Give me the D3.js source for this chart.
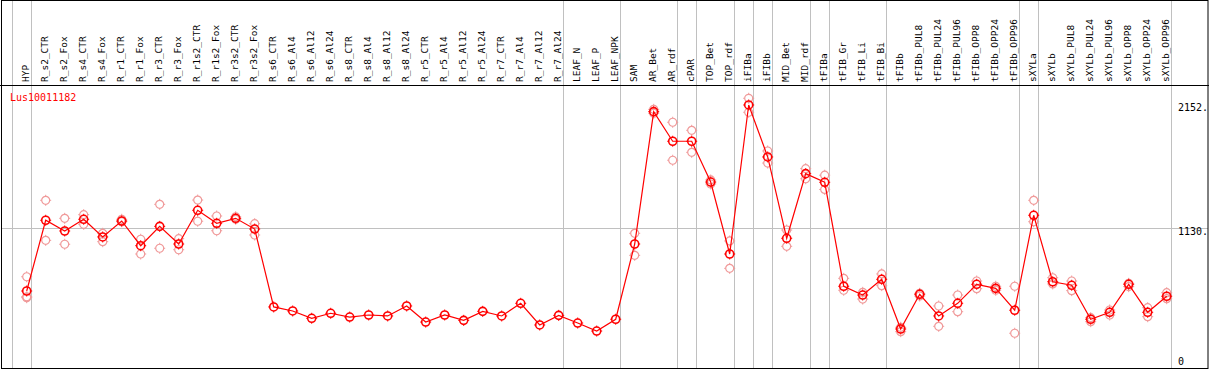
<!DOCTYPE html>
<html>
<head>
<meta charset="utf-8">
<script src="https://cdn.jsdelivr.net/npm/d3@7"></script>
<style>
  body { margin: 0; background: #fff; }
  svg text { font-family: "DejaVu Sans Mono", monospace; }
</style>
</head>
<body>
<div id="adiv"></div>
<script>
// sample names, left to right
var samples = ["HYP","R_s2_CTR","R_s2_Fox","R_s4_CTR","R_s4_Fox","R_r1_CTR","R_r1_Fox","R_r3_CTR","R_r3_Fox",
  "R_r1s2_CTR","R_r1s2_Fox","R_r3s2_CTR","R_r3s2_Fox","R_s6_CTR","R_s6_Al4","R_s6_Al12","R_s6_Al24",
  "R_s8_CTR","R_s8_Al4","R_s8_Al12","R_s8_Al24","R_r5_CTR","R_r5_Al4","R_r5_Al12","R_r5_Al24",
  "R_r7_CTR","R_r7_Al4","R_r7_Al12","R_r7_Al24","LEAF_N","LEAF_P","LEAF_NPK","SAM","AR_Bet","AR_rdf",
  "cPAR","TOP_Bet","TOP_rdf","iFIBa","iFIBb","MID_Bet","MID_rdf","tFIBa","tFIB_Gr","tFIB_Li","tFIB_Bi",
  "tFIBb","tFIBb_PUL8","tFIBb_PUL24","tFIBb_PUL96","tFIBb_OPP8","tFIBb_OPP24","tFIBb_OPP96",
  "sXYLa","sXYLb","sXYLb_PUL8","sXYLb_PUL24","sXYLb_PUL96","sXYLb_OPP8","sXYLb_OPP24","sXYLb_OPP96"];

// mean expression per sample
var means = [616,1197,1109,1205,1060,1191,988,1147,1002,1279,1172,1213,1125,485,452,392,433,
  402,419,411,493,361,419,375,449,411,515,337,416,353,287,384,1002,2089,1846,
  1846,1511,920,2144,1717,1049,1580,1509,655,583,712,
  304,589,411,515,671,638,458,1238,692,663,384,441,671,441,573];

// replicate values (first / second / third), null where none visible
var rep1 = [733,1361,1213,1243,1090,1205,1041,1328,1046,1363,1232,1226,1169,null,null,null,null,
  null,null,null,null,null,null,null,null,null,null,null,null,null,null,null,1090,2108,2002,
  1936,1528,1027,2199,1766,1117,1621,1567,720,605,756,
  318,597,493,583,698,655,655,1361,725,698,397,460,679,479,602];
var rep2 = [569,1032,1000,1164,1021,1185,920,967,955,1189,1111,1205,1076,null,null,null,null,
  null,null,null,null,null,null,null,null,null,null,null,null,null,null,null,909,2076,1690,
  1755,1495,802,2084,1667,983,1538,1450,622,550,660,
  282,575,326,446,635,622,269,1185,674,619,364,419,652,405,553];
var rep3 = [561,null,null,null,null,null,null,null,null,null,null,null,null,null,null,null,null,
  null,null,null,null,null,null,null,null,null,null,null,null,null,null,null,null,null,null,
  null,null,null,null,null,null,null,null,null,null,null,
  null,null,null,null,null,null,null,null,null,null,null,null,null,null,null];

// first sample of each tissue group (vertical separators)
var groupStarts = ["HYP","R_s2_CTR","LEAF_N","SAM","cPAR","TOP_Bet","iFIBa","iFIBb","MID_Bet",
  "tFIBa","tFIB_Gr","tFIBb","sXYLa","sXYLb"];

var yTicks = [0, 1130, 2152];
var geneName = "Lus10011182";

var W = 1209, H = 370, headerY = 85.5, bottomY = 368.5;

var svg = d3.select("#adiv").append("svg")
  .attr("width", W).attr("height", H);

var x = d3.scaleBand().domain(samples).range([11.7, 1170.7]);
var xp = function(s){ return x(s) + 15; };
var y = d3.scaleLinear().domain([0, 2152]).range([366, 104]);

// grid
svg.append("g").selectAll("line").data(groupStarts.map(function(s){ return x(s); }).concat([x.range()[1]]))
  .join("line")
  .attr("x1", function(d){ return Math.round(d) + 0.5; })
  .attr("x2", function(d){ return Math.round(d) + 0.5; })
  .attr("y1", 0).attr("y2", bottomY)
  .attr("stroke", "#c0c0c0").attr("stroke-width", 1);

svg.append("line")
  .attr("x1", 1).attr("x2", 1208)
  .attr("y1", Math.round(y(1130)) + 0.5).attr("y2", Math.round(y(1130)) + 0.5)
  .attr("stroke", "#c0c0c0");

// frame
svg.append("rect").attr("x", 1.5).attr("y", 0.5).attr("width", 1206.5).attr("height", bottomY - 0.5)
  .attr("fill", "none").attr("stroke", "#000");
svg.append("line").attr("x1", 0).attr("x2", W).attr("y1", headerY).attr("y2", headerY)
  .attr("stroke", "#000");

// sample labels
svg.append("g").selectAll("text").data(samples).join("text")
  .attr("transform", function(d){ return "translate(" + (xp(d) + 2) + ",82) rotate(-90)"; })
  .attr("font-size", "9.5px")
  .attr("fill", "#000")
  .text(function(d){ return d; });

// gene name
svg.append("text").attr("x", 10).attr("y", 100.5).attr("font-size", "10px")
  .attr("fill", "#f00").text(geneName);

// y labels
svg.append("g").selectAll("text").data(yTicks).join("text")
  .attr("x", 1178)
  .attr("y", function(d){ return Math.min(y(d) + 7, 365); })
  .attr("font-size", "10px").attr("fill", "#000")
  .text(function(d){ return d === 0 ? "0" : d + "."; });

function marker(g, color, sw){
  g.append("circle").attr("r", 4).attr("fill", "none").attr("stroke", color).attr("stroke-width", sw);
  g.append("path").attr("d", "M0,-5.5V-4M0,4V5.5M-5.5,0H-4M4,0H5.5")
    .attr("stroke", color).attr("stroke-width", 1);
}

// replicates
var reps = [];
samples.forEach(function(s, i){
  [rep1[i], rep2[i], rep3[i]].forEach(function(v){ if (v !== null) reps.push({s: s, v: v}); });
});
svg.append("g").selectAll("g").data(reps).join("g")
  .attr("transform", function(d){ return "translate(" + xp(d.s) + "," + y(d.v) + ")"; })
  .each(function(){ marker(d3.select(this), "#f09a9a", 1.2); });

// mean line
var pts = samples.map(function(s, i){ return {s: s, v: means[i]}; });
svg.append("path").datum(pts)
  .attr("fill", "none").attr("stroke", "#f00").attr("stroke-width", 1.2)
  .attr("d", d3.line().x(function(d){ return xp(d.s); }).y(function(d){ return y(d.v); }));

svg.append("g").selectAll("g").data(pts).join("g")
  .attr("transform", function(d){ return "translate(" + xp(d.s) + "," + y(d.v) + ")"; })
  .each(function(){ marker(d3.select(this), "#f00", 1.6); });
</script>
</body>
</html>
